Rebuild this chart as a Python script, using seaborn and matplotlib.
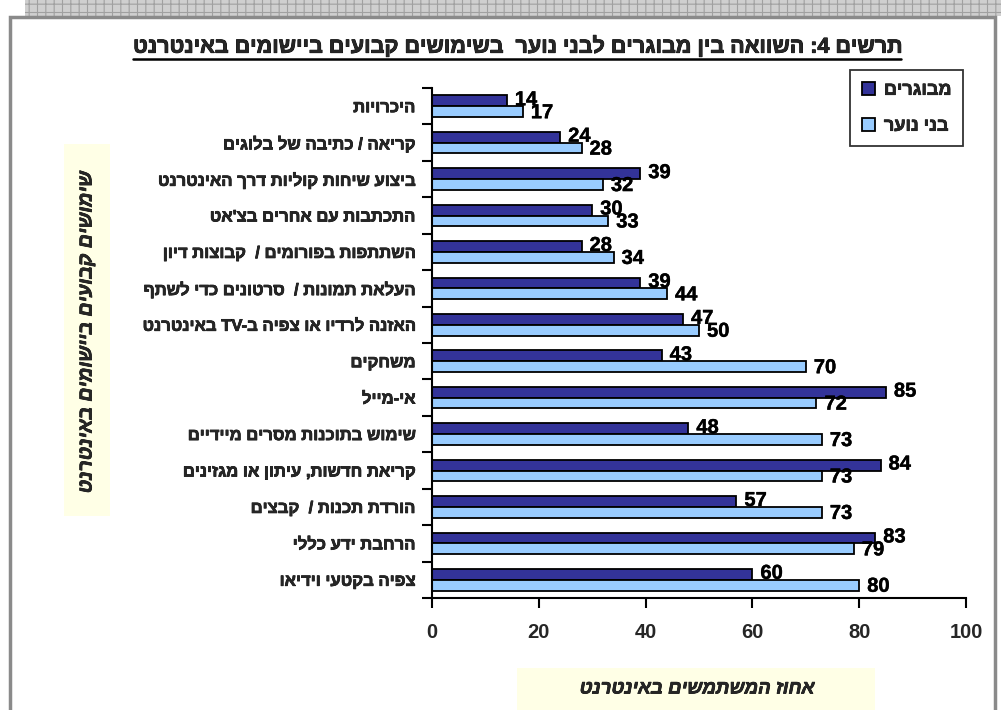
import re
import numpy as np
import pandas as pd
import matplotlib
matplotlib.use("Agg")
import matplotlib.pyplot as plt
import matplotlib.patheffects as pe
from matplotlib.patches import Rectangle, Patch
import seaborn as sns

# ---------------- data ----------------
categories = [
    "היכרויות",
    "קריאה / כתיבה של בלוגים",
    "ביצוע שיחות קוליות דרך האינטרנט",
    "התכתבות עם אחרים בצ'אט",
    "השתתפות בפורומים /  קבוצות דיון",
    "העלאת תמונות /  סרטונים כדי לשתף",
    "האזנה לרדיו או צפיה ב-TV באינטרנט",
    "משחקים",
    "אי-מייל",
    "שימוש בתוכנות מסרים מיידיים",
    "קריאת חדשות, עיתון או מגזינים",
    "הורדת תכנות /  קבצים",
    "הרחבת ידע כללי",
    "צפיה בקטעי וידיאו",
]
adults = [14, 24, 39, 30, 28, 39, 47, 43, 85, 48, 84, 57, 83, 60]
youth = [17, 28, 32, 33, 34, 44, 50, 70, 72, 73, 73, 73, 79, 80]
series_names = ["מבוגרים", "בני נוער"]
x_ticks = [0, 20, 40, 60, 80, 100]
title = "תרשים 4: השוואה בין מבוגרים לבני נוער  בשימושים קבועים ביישומים באינטרנט"
x_label = "אחוז המשתמשים באינטרנט"
y_label = "שימושים קבועים ביישומים באינטרנט"


def vis(s):
    """Convert logical RTL text to visual order (matplotlib has no bidi)."""
    r = s[::-1]
    return re.sub(r"[A-Za-z0-9]+", lambda m: m.group(0)[::-1], r)


FAM = ["Liberation Sans", "DejaVu Sans"]
sns.set_theme(style="white")
plt.rcParams["font.family"] = FAM
plt.rcParams["hatch.color"] = "#a0a0a0"
plt.rcParams["hatch.linewidth"] = 0.8

HEAVY = [pe.withStroke(linewidth=0.6, foreground="black")]

cat_v = [vis(c) for c in categories]
ser_v = [vis(s) for s in series_names]
df = pd.DataFrame({
    "category": cat_v * 2,
    "value": adults + youth,
    "group": [ser_v[0]] * len(cat_v) + [ser_v[1]] * len(cat_v),
})

DARK = "#333399"
LIGHT = "#99CCFF"

fig = plt.figure(figsize=(10.01, 7.10), dpi=100)
fig.patch.set_facecolor("white")

# decorative frame and top strip
fig.patches.append(Rectangle((25 / 1001, 1 - 16 / 710), 1, 16 / 710,
                             transform=fig.transFigure, facecolor="#cfcfcf",
                             edgecolor="#a0a0a0", hatch="++", lw=0, zorder=-5))
fig.patches.append(Rectangle((10 / 1001, -0.05), 985 / 1001, 1.05 - 17 / 710,
                             transform=fig.transFigure, facecolor="none",
                             edgecolor="#8a8a8a", lw=2.5, zorder=-4))
# pale yellow label boxes
fig.patches.append(Rectangle((64 / 1001, 1 - 516 / 710), 46 / 1001, 372 / 710,
                             transform=fig.transFigure, facecolor="#FFFFE6",
                             edgecolor="none", zorder=-3))
fig.patches.append(Rectangle((517 / 1001, 1 - 712 / 710), 358 / 1001, 44 / 710,
                             transform=fig.transFigure, facecolor="#FFFFE6",
                             edgecolor="none", zorder=-3))

ax = fig.add_axes([432 / 1001, 1 - 598 / 710, 534 / 1001, 510 / 710])
ax.set_facecolor("none")
ax.set_zorder(2)

sns.barplot(data=df, y="category", x="value", hue="group", orient="h",
            order=cat_v, hue_order=ser_v, palette=[DARK, LIGHT],
            width=0.59, edgecolor="black", linewidth=1.3, saturation=1,
            errorbar=None, ax=ax)

ax.set_xlim(0, 100)
ax.set_ylim(len(cat_v) - 0.5, -0.5)
ax.set_xticks(x_ticks)
ax.set_xticklabels([str(t) for t in x_ticks], fontsize=14.5, fontweight="bold", family=FAM)
ax.set_yticks(range(len(cat_v)))
ax.set_yticklabels(cat_v, fontsize=12, fontweight="bold", family=FAM)
for t in ax.get_yticklabels():
    t.set_path_effects([pe.withStroke(linewidth=0.5, foreground="black")])
ax.set_yticks(np.arange(-0.5, len(cat_v), 1.0), minor=True)
ax.tick_params(axis="y", which="major", length=0, pad=12)
ax.tick_params(axis="y", which="minor", length=7, width=1.5, color="black", direction="out", left=True)
ax.tick_params(axis="x", which="major", length=7, width=1.5, color="black", direction="out", bottom=True, pad=11)
ax.set_xlabel("")
ax.set_ylabel("")
for s in ["top", "right"]:
    ax.spines[s].set_visible(False)
for s in ["left", "bottom"]:
    ax.spines[s].set_color("black")
    ax.spines[s].set_linewidth(1.5)

# value labels
half = 0.59 / 4
for i, (a, y) in enumerate(zip(adults, youth)):
    ax.text(a + 1.5, i - half - 0.03, str(a), ha="left", va="center",
            fontsize=14.5, fontweight="bold", color="black", family=FAM,
            path_effects=[pe.withStroke(linewidth=0.3, foreground="black")])
    ax.text(y + 1.5, i + half + 0.03, str(y), ha="left", va="center",
            fontsize=14.5, fontweight="bold", color="black", family=FAM,
            path_effects=[pe.withStroke(linewidth=0.3, foreground="black")])

# legend
handles = [Patch(facecolor=DARK, edgecolor="black", lw=1.3),
           Patch(facecolor=LIGHT, edgecolor="black", lw=1.3)]
if ax.get_legend() is not None:
    ax.get_legend().remove()
leg = fig.legend(handles, ser_v, loc="upper right",
                 bbox_to_anchor=(963 / 1001, 1 - 70 / 710), borderaxespad=0,
                 prop={"family": FAM, "weight": "bold", "size": 13},
                 frameon=True, fancybox=False, edgecolor="black",
                 handlelength=0.7, handleheight=0.7, handletextpad=0.5,
                 labelspacing=1.05, borderpad=0.65)
leg.get_frame().set_linewidth(1.3)
leg.set_zorder(5)
for t in leg.get_texts():
    t.set_path_effects([pe.withStroke(linewidth=0.5, foreground="black")])

# title and axis labels
tl = fig.text(517 / 1001, 1 - 47 / 710, vis(title), ha="center", va="center",
              fontsize=15.5, fontweight="bold", family=FAM, path_effects=HEAVY)
fig.canvas.draw()
bb = tl.get_window_extent()
fig.add_artist(plt.Line2D([bb.x0 / 1001, bb.x1 / 1001],
                          [(bb.y0 - 1) / 710, (bb.y0 - 1) / 710],
                          transform=fig.transFigure, color="black", lw=1.8))
fig.text(87 / 1001, 1 - 332 / 710, vis(y_label), ha="center", va="center",
         rotation=90, fontsize=14, fontweight="bold", style="italic", family=FAM,
         path_effects=[pe.withStroke(linewidth=0.5, foreground="black")])
fig.text(697 / 1001, 1 - 689 / 710, vis(x_label), ha="center", va="center",
         fontsize=13.5, fontweight="bold", style="italic", family=FAM,
         path_effects=[pe.withStroke(linewidth=0.5, foreground="black")])

fig.savefig("out.png", dpi=100)
